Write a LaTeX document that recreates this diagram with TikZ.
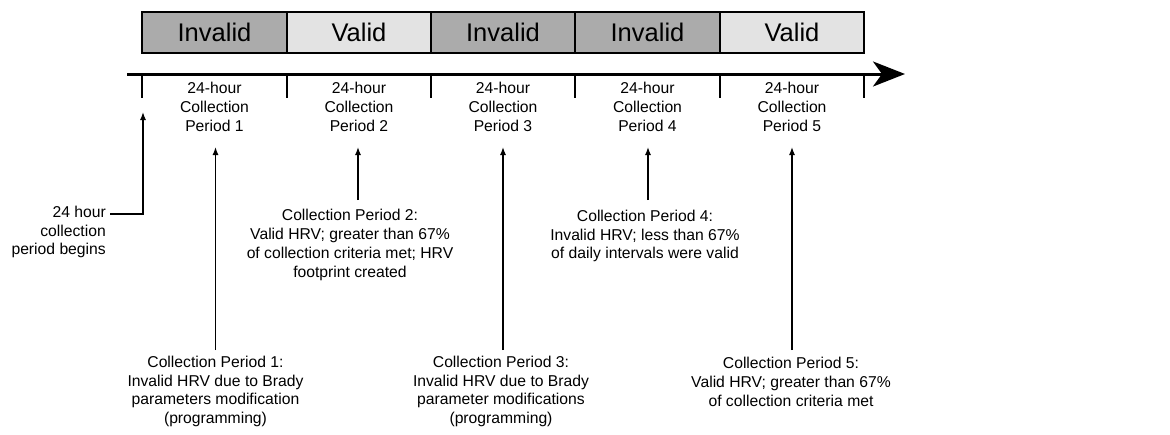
\documentclass[tikz,border=0pt]{standalone}
\usepackage{fontspec}
\setmainfont{Liberation Sans}
\usetikzlibrary{arrows.meta}
\definecolor{invalidfill}{RGB}{171,171,171}
\definecolor{validfill}{RGB}{227,227,227}
\begin{document}
\begin{tikzpicture}[x=1pt,y=-1pt,
  statebox/.style={draw=black,line width=2pt,minimum width=144.5pt,minimum height=41pt,inner sep=0pt,
    font=\fontsize{25.5}{30}\selectfont},
  invalidbox/.style={statebox,fill=invalidfill},
  validbox/.style={statebox,fill=validfill},
  lbl/.style={align=center,inner sep=0pt,font=\fontsize{15.7}{18.8}\selectfont},
  tickline/.style={line width=2.5pt},
  pointer/.style={line width=1.3pt,-{Latex[length=8pt,width=6pt]}}
]
\useasboundingbox (0,0) rectangle (1170,434);
% state bar
\node[invalidbox] (b1) at (214.5,32.5) {Invalid};
\node[validbox]   (b2) at (359,32.5)   {Valid};
\node[invalidbox] (b3) at (503,32.5)   {Invalid};
\node[invalidbox] (b4) at (647.5,32.5) {Invalid};
\node[validbox]   (b5) at (792,32.5)   {Valid};
% timeline
\coordinate (tl0) at (127,74);
\coordinate (tl1) at (905,74);
\draw[line width=3pt,-{Stealth[length=32pt,width=25pt,inset=9pt]}] (tl0) -- (tl1);
\foreach \i/\x in {0/142,1/287,2/431,3/575,4/720,5/864}{
  \coordinate (k\i) at (\x,74);
  \coordinate (kb\i) at (\x,98);
  \draw[tickline] (k\i) -- (kb\i);
}
% period labels
\node[lbl] (t1) at (214.5,107) {24-hour\\Collection\\Period 1};
\node[lbl] (t2) at (359,107)   {24-hour\\Collection\\Period 2};
\node[lbl] (t3) at (503,107)   {24-hour\\Collection\\Period 3};
\node[lbl] (t4) at (647.5,107) {24-hour\\Collection\\Period 4};
\node[lbl] (t5) at (792,107)   {24-hour\\Collection\\Period 5};
% arrow tips
\coordinate (a0) at (143,112);
\coordinate (a1) at (215.5,147);
\coordinate (a2) at (358,147);
\coordinate (a3) at (503,147);
\coordinate (a4) at (648,147);
\coordinate (a5) at (792,147);
% descriptions
\node[lbl,align=right,anchor=east] (d0) at (106,232) {24 hour\\collection\\period begins};
\node[lbl] (d1) at (215.5,391.5) {Collection Period 1:\\Invalid HRV due to Brady\\parameters modification\\(programming)};
\node[lbl] (d2) at (350,245) {Collection Period 2:\\Valid HRV; greater than 67\%\\of collection criteria met; HRV\\footprint created};
\node[lbl] (d3) at (501,391.5) {Collection Period 3:\\Invalid HRV due to Brady\\parameter modifications\\(programming)};
\node[lbl] (d4) at (645,236) {Collection Period 4:\\Invalid HRV; less than 67\%\\of daily intervals were valid};
\node[lbl] (d5) at (791,382) {Collection Period 5:\\Valid HRV; greater than 67\%\\of collection criteria met};
% connectors
\coordinate (c0) at (143,214);
\draw[pointer] ([xshift=4pt]d0.north east |- c0) -- (c0) -- (a0);
\draw[pointer] (a1 |- 0,350) -- (a1);
\draw[pointer] (a2 |- 0,200) -- (a2);
\draw[pointer] (a3 |- 0,350) -- (a3);
\draw[pointer] (a4 |- 0,200) -- (a4);
\draw[pointer] (a5 |- 0,350) -- (a5);
\end{tikzpicture}
\end{document}
